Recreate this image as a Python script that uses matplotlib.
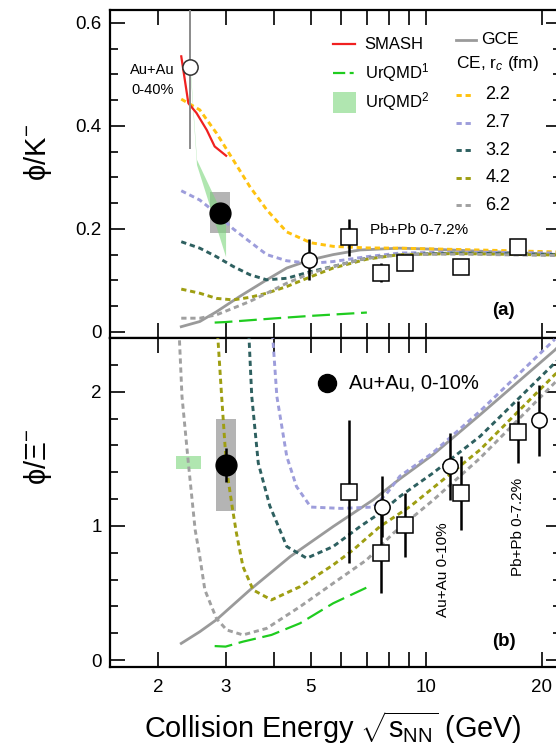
import matplotlib.pyplot as plt
from matplotlib.ticker import FixedLocator, MultipleLocator, NullFormatter, FuncFormatter

plt.rcParams['font.family'] = ['Liberation Sans', 'DejaVu Sans']
plt.rcParams['mathtext.fontset'] = 'custom'
plt.rcParams['mathtext.rm'] = 'Liberation Sans'
plt.rcParams['mathtext.it'] = 'Liberation Sans:italic'

# ---------------- panel (a): phi/K- ----------------
gce_a_x = [2.30, 2.57, 2.84, 3.27, 3.84, 4.33, 5.0, 5.72, 6.72, 8.53, 10.4, 22.5]
gce_a_y = [0.010, 0.020, 0.039, 0.069, 0.101, 0.124, 0.140, 0.150, 0.159, 0.1625, 0.1605, 0.150]

ce_a_x = [2.30, 2.57, 2.84, 3.14, 3.47, 3.84, 4.33, 5.0, 5.72, 6.99, 8.53, 12.0, 22.5]
ce22_a = [0.452, 0.431, 0.386, 0.334, 0.282, 0.237, 0.194, 0.173, 0.166, 0.163, 0.1625, 0.160, 0.155]
ce27_a = [0.274, 0.256, 0.230, 0.200, 0.175, 0.150, 0.138, 0.133, 0.1365, 0.146, 0.153, 0.155, 0.153]
ce32_a = [0.175, 0.1625, 0.146, 0.127, 0.111, 0.101, 0.104, 0.117, 0.127, 0.143, 0.150, 0.153, 0.150]
ce42_a = [0.083, 0.075, 0.065, 0.062, 0.067, 0.075, 0.088, 0.107, 0.124, 0.141, 0.150, 0.152, 0.149]
ce62_a = [0.0265, 0.0265, 0.033, 0.046, 0.059, 0.075, 0.0945, 0.114, 0.127, 0.143, 0.150, 0.151, 0.148]

smash_x = [2.30, 2.40, 2.52, 2.68, 2.81, 3.01]
smash_y = [0.535, 0.444, 0.425, 0.392, 0.360, 0.342]

urqmd1_a_x = [2.81, 3.0, 4.0, 5.0, 7.0]
urqmd1_a_y = [0.018, 0.019, 0.026, 0.031, 0.0375]

urqmd2_a_x = [2.42, 2.52, 3.0]
urqmd2_a_lo = [0.515, 0.325, 0.146]
urqmd2_a_hi = [0.525, 0.335, 0.215]

# Au+Au 0-10% (filled), Au+Au 0-40% (open), Pb+Pb 0-7.2% (squares), other Au+Au (open)
star_a_x, star_a_y, star_a_err, star_a_sys = [2.9], [0.231], [0.0], [0.04]
auau40_x, auau40_y, auau40_err = [2.42], [0.515], [0.16]
auau_a_x, auau_a_y, auau_a_err = [4.95], [0.140], [0.04]
pbpb_a_x = [6.3, 7.6, 8.8, 12.3, 17.3]
pbpb_a_y = [0.184, 0.115, 0.133, 0.1255, 0.1645]
pbpb_a_err = [0.036, 0.018, 0.008, 0.008, 0.008]

# ---------------- panel (b): phi/Xi- ----------------
gce_b_x = [2.30, 2.57, 2.84, 3.47, 4.42, 5.72, 7.27, 8.53, 10.4, 13.8, 21.6, 22.5]
gce_b_y = [0.124, 0.211, 0.30, 0.522, 0.771, 0.995, 1.194, 1.35, 1.53, 1.828, 2.31, 2.36]

ce27_b_x = [3.96, 4.08, 4.33, 4.59, 5.0, 6.0, 7.27, 7.88, 8.53, 10.4, 13.8, 21.6]
ce27_b_y = [2.50, 1.965, 1.517, 1.293, 1.14, 1.13, 1.14, 1.24, 1.37, 1.545, 1.855, 2.39]
ce32_b_x = [3.44, 3.51, 3.65, 3.91, 4.33, 4.88, 5.72, 6.72, 7.57, 8.53, 10.4, 13.8, 21.6, 22.5]
ce32_b_y = [2.50, 1.965, 1.468, 1.15, 0.846, 0.759, 0.846, 0.995, 1.095, 1.219, 1.393, 1.667, 2.214, 2.26]
ce42_b_x = [2.85, 2.93, 3.02, 3.13, 3.20, 3.33, 3.54, 3.95, 4.69, 5.72, 6.45, 7.57, 9.07, 13.8, 21.6, 22.5]
ce42_b_y = [2.50, 1.965, 1.418, 1.12, 0.95, 0.696, 0.522, 0.448, 0.547, 0.709, 0.821, 0.995, 1.144, 1.567, 2.127, 2.17]
ce62_b_x = [2.27, 2.31, 2.40, 2.50, 2.57, 2.65, 2.84, 3.02, 3.33, 3.84, 4.69, 5.72, 6.99, 8.20, 10.4, 13.8, 21.6, 22.5]
ce62_b_y = [2.45, 1.965, 1.468, 0.970, 0.771, 0.522, 0.31, 0.224, 0.187, 0.236, 0.398, 0.572, 0.746, 0.945, 1.19, 1.505, 2.067, 2.11]

urqmd1_b_x = [2.81, 3.0, 3.33, 3.95, 4.69, 5.72, 6.99]
urqmd1_b_y = [0.104, 0.10, 0.137, 0.187, 0.274, 0.423, 0.54]

urqmd2_b_x, urqmd2_b_y, urqmd2_b_err = [2.40], [1.47], [0.047]

star_b_x, star_b_y, star_b_err, star_b_sys = [3.0], [1.455], [0.125], [0.345]
auau_b_x = [7.65, 11.5, 19.6]
auau_b_y = [1.144, 1.443, 1.786]
auau_b_err = [0.23, 0.25, 0.264]
pbpb_b_x = [6.3, 7.6, 8.8, 12.3, 17.3]
pbpb_b_y = [1.256, 0.80, 1.007, 1.244, 1.699]
pbpb_b_err = [0.53, 0.30, 0.236, 0.276, 0.23]

rc_labels = ['2.2', '2.7', '3.2', '4.2', '6.2']
ce_colors = ['#FFC20E', '#9D9DDB', '#2E6060', '#9E9E12', '#A0A0A0']
gce_color = '#9A9A9A'
urqmd_green = '#1FCC1F'
ce_ls = (0, (1.8, 1.3))
urqmd_ls = (0, (8, 3))

fig = plt.figure(figsize=(5.56, 7.47), dpi=100)
ax1 = fig.add_axes([0.1978, 0.5475, 0.812, 0.4391])
ax2 = fig.add_axes([0.1978, 0.1071, 0.812, 0.4404])
xmin, xmax = 1.5, 22.48

for ax in (ax1, ax2):
    ax.set_xscale('log')
    ax.set_xlim(xmin, xmax)
    ax.xaxis.set_major_locator(FixedLocator([2, 3, 4, 5, 6, 7, 8, 9, 10, 20]))
    ax.xaxis.set_minor_locator(FixedLocator([]))
    ax.tick_params(which='both', direction='in', top=True, right=True, width=1.2,
                   labelsize=13.5)
    ax.tick_params(which='major', length=11)
    ax.tick_params(which='minor', length=6)
    for s in ax.spines.values():
        s.set_linewidth(1.6)

ax2.xaxis.set_major_formatter(FuncFormatter(lambda v, p: '%g' % v if v in (2, 3, 5, 10, 20) else ''))
ax2.tick_params(axis='x', pad=9)
ax1.xaxis.set_major_formatter(NullFormatter())

ax1.set_ylim(-0.012, 0.625)
ax1.yaxis.set_major_locator(MultipleLocator(0.2))
ax1.yaxis.set_minor_locator(MultipleLocator(0.05))
ax1.yaxis.set_major_formatter(FuncFormatter(lambda v, p: '%g' % round(v, 2)))
ax2.set_ylim(-0.052, 2.40)
ax2.yaxis.set_major_locator(MultipleLocator(1))
ax2.yaxis.set_minor_locator(MultipleLocator(0.2))
ax2.yaxis.set_major_formatter(FuncFormatter(lambda v, p: '%g' % v))
for ax in (ax1, ax2):
    ax.tick_params(axis='y', pad=6)

# ---- panel (a) ----
for xc, yc, sy in zip(star_a_x, star_a_y, star_a_sys):
    ax1.fill_between([xc / 1.062, xc * 1.062], yc - sy, yc + sy, color='#B4B4B4', lw=0, zorder=1)
ax1.fill_between(urqmd2_a_x, urqmd2_a_lo, urqmd2_a_hi, color='#7CD67C', alpha=0.6, lw=0, zorder=2)
ax1.plot(gce_a_x, gce_a_y, color=gce_color, lw=2, zorder=3)
for ys, c in zip([ce22_a, ce27_a, ce32_a, ce42_a, ce62_a], ce_colors):
    ax1.plot(ce_a_x, ys, color=c, lw=2.1, ls=ce_ls, zorder=3)
ax1.plot(smash_x, smash_y, color='#F02020', lw=1.6, zorder=3)
ax1.plot(urqmd1_a_x, urqmd1_a_y, color=urqmd_green, lw=1.6, ls=urqmd_ls, zorder=3)

ax1.errorbar(auau40_x, auau40_y, yerr=auau40_err, fmt='none', ecolor='#8A8A8A', elinewidth=1.4,
             zorder=4)
ax1.plot(auau40_x, auau40_y, 'o', ms=11, mfc='white', mec='#333333', mew=1.1, zorder=5)
ax1.errorbar(auau_a_x, auau_a_y, yerr=auau_a_err, fmt='o', ms=11, mfc='white', mec='black',
             mew=1.1, ecolor='black', elinewidth=1.8, zorder=5)
ax1.errorbar(pbpb_a_x, pbpb_a_y, yerr=pbpb_a_err, fmt='s', ms=11, mfc='white', mec='black',
             mew=1.1, ecolor='black', elinewidth=1.8, zorder=5)
ax1.plot(star_a_x, star_a_y, 'o', ms=15, color='black', zorder=6)

ax1.text(0.094, 0.787, 'Au+Au\n0-40%', transform=ax1.transAxes, ha='center', va='center',
         fontsize=10.5, linespacing=1.5)
ax1.text(0.576, 0.329, 'Pb+Pb 0-7.2%', transform=ax1.transAxes, ha='left', va='center', fontsize=11)
ax1.text(0.872, 0.085, '(a)', transform=ax1.transAxes, ha='center', va='center',
         fontsize=13.5, fontweight='bold')

# legend (a), left column
ax1.plot([0.494, 0.543], [0.896, 0.896], color='#F02020', lw=1.6, transform=ax1.transAxes)
ax1.text(0.564, 0.896, 'SMASH', transform=ax1.transAxes, va='center', fontsize=12)
ax1.plot([0.494, 0.543], [0.808, 0.808], color=urqmd_green, lw=1.6, ls=(0, (5.5, 2, 1.8, 2)),
         transform=ax1.transAxes)
ax1.text(0.564, 0.808, 'UrQMD$^1$', transform=ax1.transAxes, va='center', fontsize=12)
ax1.fill_between([0.494, 0.546], 0.686, 0.750, color='#7CD67C', alpha=0.6, lw=0,
                 transform=ax1.transAxes)
ax1.text(0.564, 0.720, 'UrQMD$^2$', transform=ax1.transAxes, va='center', fontsize=12)
# legend (a), right column
ax1.plot([0.766, 0.810], [0.909, 0.909], color=gce_color, lw=2, transform=ax1.transAxes)
ax1.text(0.822, 0.909, 'GCE', transform=ax1.transAxes, va='center', fontsize=12.5)
ax1.text(0.766, 0.838, 'CE, r$_c$ (fm)', transform=ax1.transAxes, va='center', fontsize=12.5)
for i, (lab, c) in enumerate(zip(rc_labels, ce_colors)):
    yy = 0.741 - i * 0.084
    ax1.plot([0.766, 0.804], [yy, yy], color=c, lw=2.1, ls=ce_ls, transform=ax1.transAxes)
    ax1.text(0.831, yy, lab, transform=ax1.transAxes, va='center', fontsize=13)

# ---- panel (b) ----
for xc, yc, sy in zip(star_b_x, star_b_y, star_b_sys):
    ax2.fill_between([xc / 1.062, xc * 1.062], yc - sy, yc + sy, color='#B4B4B4', lw=0, zorder=1)
for xc, yc, sy in zip(urqmd2_b_x, urqmd2_b_y, urqmd2_b_err):
    ax2.fill_between([xc / 1.08, xc * 1.08], yc - sy, yc + sy, color='#7CD67C', alpha=0.6, lw=0, zorder=2)
ax2.plot(gce_b_x, gce_b_y, color=gce_color, lw=2, zorder=3)
for xs, ys, c in zip([ce27_b_x, ce32_b_x, ce42_b_x, ce62_b_x],
                     [ce27_b_y, ce32_b_y, ce42_b_y, ce62_b_y], ce_colors[1:]):
    ax2.plot(xs, ys, color=c, lw=2.1, ls=ce_ls, zorder=3)
ax2.plot(urqmd1_b_x, urqmd1_b_y, color=urqmd_green, lw=1.6, ls=urqmd_ls, zorder=3)

ax2.errorbar(pbpb_b_x, pbpb_b_y, yerr=pbpb_b_err, fmt='s', ms=11, mfc='white', mec='black',
             mew=1.1, ecolor='black', elinewidth=1.8, zorder=5)
ax2.errorbar(auau_b_x, auau_b_y, yerr=auau_b_err, fmt='o', ms=11, mfc='white', mec='black',
             mew=1.1, ecolor='black', elinewidth=1.8, zorder=5)
ax2.errorbar(star_b_x, star_b_y, yerr=star_b_err, fmt='o', ms=15, color='black',
             elinewidth=1.8, zorder=6)

ax2.plot([0.480], [0.863], 'o', ms=13, color='black', transform=ax2.transAxes)
ax2.text(0.530, 0.863, 'Au+Au, 0-10%', transform=ax2.transAxes, va='center', fontsize=14.5)
ax2.text(0.873, 0.076, '(b)', transform=ax2.transAxes, ha='center', va='center',
         fontsize=13.5, fontweight='bold')
ax2.text(0.738, 0.295, 'Au+Au 0-10%', transform=ax2.transAxes, ha='center', va='center',
         rotation=90, fontsize=11)
ax2.text(0.903, 0.426, 'Pb+Pb 0-7.2%', transform=ax2.transAxes, ha='center', va='center',
         rotation=90, fontsize=11)

fig.text(0.068, 0.7965, 'ϕ/K$^{-}$', rotation=90, ha='center', va='center', fontsize=21)
fig.text(0.068, 0.388, 'ϕ/Ξ$^{-}$', rotation=90, ha='center', va='center', fontsize=21)
fig.text(0.599, 0.026, r'Collision Energy $\sqrt{\mathrm{s}_{\mathrm{NN}}}$ (GeV)', ha='center',
         va='center', fontsize=20.8)

fig.savefig('out.png', dpi=100)
